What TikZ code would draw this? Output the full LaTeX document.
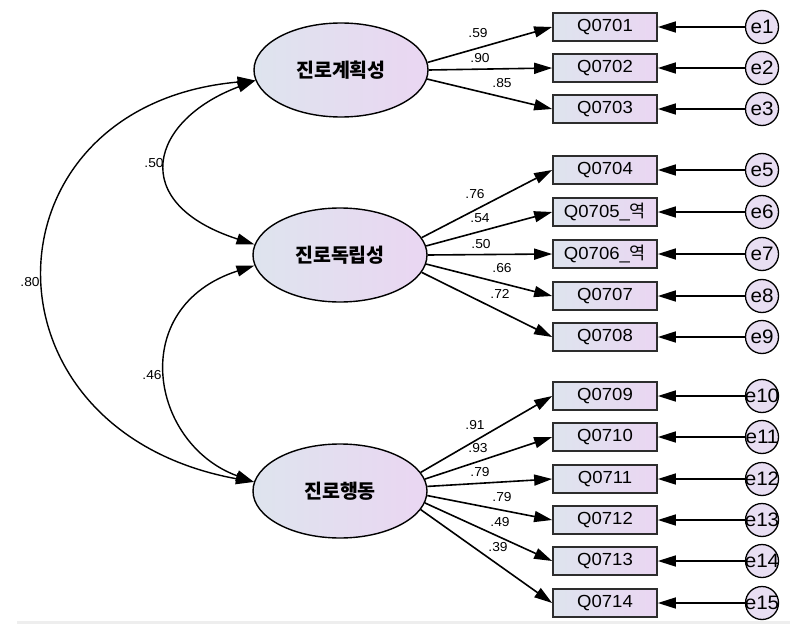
\documentclass[tikz,border=0pt]{standalone}
\usepackage{fontspec}
\setmainfont{Liberation Sans}[FakeStretch=1.06]
\newfontfamily\kr{Noto Sans CJK KR}
\usetikzlibrary{arrows.meta,shapes.geometric}
\definecolor{lvL}{RGB}{222,228,238}
\definecolor{lvR}{RGB}{234,214,242}
\definecolor{ecol}{RGB}{232,222,242}
\definecolor{bcol}{RGB}{45,45,45}
\definecolor{sepg}{RGB}{238,238,238}
\begin{document}
\begin{tikzpicture}[x=1pt,y=-1pt,
 lat/.style={ellipse,draw=black,line width=1.4pt,minimum width=174pt,minimum height=94pt,inner sep=0pt,left color=lvL,right color=lvR,font=\kr\bfseries\fontsize{19.5}{22}\selectfont},
 obs/.style={rectangle,draw=bcol,line width=1.7pt,minimum width=104pt,minimum height=28pt,inner sep=0pt,left color=lvL,right color=lvR,font=\fontsize{17.5}{19}\selectfont},
 err/.style={circle,draw=black,line width=1.3pt,minimum size=33pt,inner sep=0pt,fill=ecol,font=\fontsize{19.5}{20}\selectfont},
 arr/.style={line width=1.6pt,-{Triangle[length=18pt,width=11pt]}},
 cov/.style={line width=1.4pt,{Triangle[length=18pt,width=11pt]}-{Triangle[length=18pt,width=11pt]}},
 coef/.style={font=\fontsize{13}{14}\selectfont,inner sep=0pt}
]
\useasboundingbox[fill=white] (0,0) rectangle (796,634);
\draw[line width=3pt,sepg] (17,622) -- (790,622);

% latent variables
\node[lat] (A) at (341,70) {진로계획성};
\node[lat] (B) at (340,255) {진로독립성};
\node[lat] (C) at (340,491) {진로행동};

% observed
\foreach \n/\y/\t in {1/27/Q0701,2/68/Q0702,3/109/Q0703,4/170/Q0704,
  5/212/{Q0705\_{\kr 역}},6/254/{Q0706\_{\kr 역}},7/296/Q0707,8/337/Q0708,
  9/396/Q0709,10/437/Q0710,11/479/Q0711,12/520/Q0712,13/561/Q0713,14/603/Q0714}
  \node[obs] (Q\n) at (605,\y) {\t};

% errors
\foreach \n/\y/\t in {1/27/e1,2/68/e2,3/109/e3,4/170/e5,5/212/e6,6/254/e7,7/296/e8,8/337/e9,
  9/396/e10,10/437/e11,11/479/e12,12/520/e13,13/561/e14,14/603/e15}
  {\node[err] (E\n) at (762,\y) {\makebox[0pt]{\t}};
   \draw[arr] (E\n) -- (Q\n.east);}

% loadings
\draw[arr] (A.5) -- (Q1.west);
\draw[arr] (A.0) -- (Q2.west);
\draw[arr] (A.-6) -- (Q3.west);
\draw[arr] (B.12) -- (Q4.west);
\draw[arr] (B.6) -- (Q5.west);
\draw[arr] (B.0) -- (Q6.west);
\draw[arr] (B.-6) -- (Q7.west);
\draw[arr] (B.-12) -- (Q8.west);
\draw[arr] (C.13) -- (Q9.west);
\draw[arr] (C.8) -- (Q10.west);
\draw[arr] (C.3) -- (Q11.west);
\draw[arr] (C.-3) -- (Q12.west);
\draw[arr] (C.-8) -- (Q13.west);
\draw[arr] (C.-13) -- (Q14.west);

% covariances
\draw[cov] (A.187) .. controls (-20,105) and (-30,430) .. (C.174);
\draw[cov] (A.187) .. controls (150,120) and (126,203) .. (B.173);
\draw[cov] (B.187) .. controls (126,307) and (150,444) .. (C.174);

% labels
\node[coef] (c1) at (478,33) {.59};
\node[coef] (c2) at (480,58) {.90};
\node[coef] (c3) at (502,83) {.85};
\node[coef] (c4) at (475,194) {.76};
\node[coef] (c5) at (480,218) {.54};
\node[coef] (c6) at (481,244) {.50};
\node[coef] (c7) at (502,268) {.66};
\node[coef] (c8) at (500,294) {.72};
\node[coef] (c9) at (475,425) {.91};
\node[coef] (c10) at (478,448) {.93};
\node[coef] (c11) at (480,472) {.79};
\node[coef] (c12) at (502,497) {.79};
\node[coef] (c13) at (500,522) {.49};
\node[coef] (c14) at (498,547) {.39};
\node[coef] (r1) at (154,163) {.50};
\node[coef] (r2) at (30,282) {.80};
\node[coef] (r3) at (152,375) {.46};
\end{tikzpicture}
\end{document}
